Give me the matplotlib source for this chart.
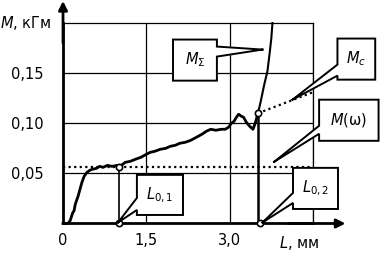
import matplotlib.pyplot as plt

# measured torque curve M(L)
L_curve = [0, 0.09, 0.13, 0.17, 0.20, 0.22, 0.25, 0.27, 0.30, 0.34, 0.38, 0.43,
           0.48, 0.52, 0.60, 0.66, 0.72, 0.80, 0.88, 0.98, 1.05, 1.12, 1.21,
           1.30, 1.40, 1.50, 1.57, 1.65, 1.75, 1.85, 1.93, 2.02, 2.10, 2.20,
           2.30, 2.40, 2.50, 2.58, 2.66, 2.75, 2.85, 2.92, 2.98, 3.03, 3.08,
           3.11, 3.16, 3.21, 3.25, 3.30, 3.36, 3.42, 3.46, 3.51]
M_curve = [0, 0, 0.003, 0.010, 0.013, 0.019, 0.024, 0.027, 0.033, 0.041, 0.047,
           0.051, 0.053, 0.054, 0.055, 0.057, 0.056, 0.058, 0.057, 0.058, 0.058,
           0.061, 0.062, 0.064, 0.066, 0.069, 0.071, 0.072, 0.074, 0.075, 0.077,
           0.078, 0.080, 0.081, 0.083, 0.086, 0.089, 0.092, 0.094, 0.093, 0.094,
           0.094, 0.096, 0.100, 0.102, 0.105, 0.109, 0.107, 0.106, 0.101, 0.097,
           0.094, 0.100, 0.110]

# M_sigma branch
L_sigma = [3.51, 3.56, 3.62, 3.68, 3.72, 3.75, 3.77]
M_sigma = [0.110, 0.122, 0.138, 0.152, 0.170, 0.185, 0.200]

# M_c extrapolation
L_c = [3.51, 4.5]
M_c = [0.110, 0.131]

M_omega = 0.056
L01 = 1.0
L02 = 3.51

x_ticks = [0, 1.5, 3.0]
x_labels = ["0", "1,5", "3,0"]
y_ticks = [0.05, 0.10, 0.15]
y_labels = ["0,05", "0,10", "0,15"]

fig = plt.figure(figsize=(3.84, 2.54), dpi=100)
ax = fig.add_axes([0.1641, 0.1201, 0.651, 0.7893])
ax.set_xlim(0, 4.5)
ax.set_ylim(0, 0.2)

for s in ["top", "right"]:
    ax.spines[s].set_linewidth(0.9)
for s in ["left", "bottom"]:
    ax.spines[s].set_linewidth(2)
ax.set_xticks([1.5, 3.0, 4.5], minor=False)
ax.set_yticks([0.05, 0.10, 0.15, 0.2])
ax.grid(True, color="black", lw=0.9)
ax.tick_params(length=0, labelsize=10.5, pad=7)
ax.set_xticks(x_ticks)
ax.set_xticklabels(x_labels)
for g in [4.5]:
    ax.axvline(g, color="black", lw=0.9)
ax.set_yticks(y_ticks)
ax.set_yticklabels(y_labels)
ax.tick_params(axis="y", pad=14)
ax.set_axisbelow(True)

# axis arrows
ax.annotate("", xy=(0, 1.11), xytext=(0, 0.9), xycoords="axes fraction",
            arrowprops=dict(arrowstyle="-|>", lw=2, color="black",
                            mutation_scale=13, shrinkA=0, shrinkB=0))
ax.annotate("", xy=(1.13, 0), xytext=(0.9, 0), xycoords="axes fraction",
            arrowprops=dict(arrowstyle="-|>", lw=2, color="black",
                            mutation_scale=13, shrinkA=0, shrinkB=0))

# curves
ax.plot(L_curve, M_curve, color="black", lw=2, solid_joinstyle="round",
        clip_on=False, zorder=3)
ax.plot([L02, L02], [M_curve[-1], 0], color="black", lw=1.8, zorder=3)
ax.plot(L_sigma, M_sigma, color="black", lw=1.5, zorder=3, clip_on=False)
ax.plot(L_c, M_c, color="black", lw=1.6, ls=(0, (1, 1.5)), zorder=3)
ax.plot([0, 4.5], [M_omega, M_omega], color="black", lw=1.6,
        ls=(0, (1, 1.5)), zorder=3)
ax.plot([L01, L01], [0, M_omega], color="black", lw=1.2, zorder=3)

ax.plot([L01, L01, L02 + 0.04, L02], [0, M_omega, 0, M_curve[-1]], "o",
        ms=4.5, mfc="white", mec="black", mew=1.2, zorder=5, clip_on=False)


def callout(text, x0, x1, y0, y1, side, g0, g1, tip):
    # box with a wedge opening on one side pointing to tip
    if side == "right":
        pts = [(x1, g0), (x1, y1), (x0, y1), (x0, y0), (x1, y0), (x1, g1)]
        xs_ = x1
    else:
        pts = [(x0, g0), (x0, y1), (x1, y1), (x1, y0), (x0, y0), (x0, g1)]
        xs_ = x0
    pts = [tip] + pts + [tip]
    ax.plot([p[0] for p in pts], [p[1] for p in pts], color="black", lw=1.4,
            clip_on=False, zorder=6, solid_joinstyle="miter")
    ax.fill([p[0] for p in pts], [p[1] for p in pts], color="white",
            clip_on=False, zorder=5.5)
    ax.text((x0 + x1) / 2, (y0 + y1) / 2, text, ha="center", va="center",
            fontsize=10.5, zorder=7, clip_on=False)


callout(r"$M_{\Sigma}$", 1.98, 2.77, 0.1425, 0.1835, "right", 0.1765, 0.1665,
        (3.59, 0.1735))
callout(r"$M_c$", 4.94, 5.62, 0.1435, 0.1845, "left", 0.1585, 0.1475,
        (4.13, 0.1235))
callout(r"$M$(ω)", 4.61, 5.68, 0.0825, 0.1235, "left", 0.0975, 0.0895,
        (3.80, 0.0615))
callout(r"$L_{\mathrm{0,1}}$", 1.33, 2.16, 0.0085, 0.0485, "left", 0.0255,
        0.0135, (0.99, 0.001))
callout(r"$L_{\mathrm{0,2}}$", 4.14, 4.95, 0.0145, 0.0555, "left", 0.0305,
        0.0205, (3.59, 0.001))

fig.text(0.0, 0.909, r"$M$, кГм", fontsize=10.5, ha="left", va="center")
fig.text(0.78, 0.043, r"$L$, мм", fontsize=10.5, ha="center", va="center")

fig.savefig("out.png", dpi=100)
